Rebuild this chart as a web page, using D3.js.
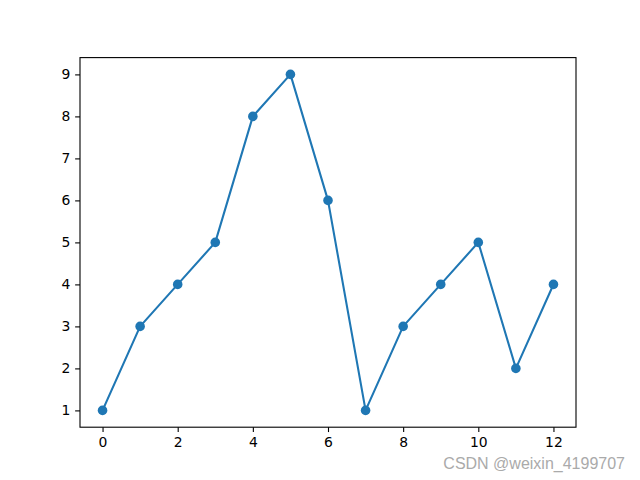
<!DOCTYPE html>
<html><head><meta charset="utf-8">
<script src="https://cdn.jsdelivr.net/npm/d3@7"></script>
<style>body{margin:0;background:#fff}svg{display:block}</style>
</head><body>
<svg id="c" width="640" height="480"></svg>
<script>
const xs = [0,1,2,3,4,5,6,7,8,9,10,11,12];
const ys = [1,3,4,5,8,9,6,1,3,4,5,2,4];
const xTicks = [0,2,4,6,8,10,12];
const yTicks = [1,2,3,4,5,6,7,8,9];

const svg = d3.select("#c");
const L=80, R=576, T=57.6, B=427.2;
const x = d3.scaleLinear().domain([-0.6,12.6]).range([L,R]);
const y = d3.scaleLinear().domain([0.6,9.4]).range([B,T]);
const color = "#1f77b4";
const font = "DejaVu Sans, sans-serif";

const line = d3.line().x((d,i)=>x(xs[i])).y(d=>y(d));
svg.append("path").datum(ys).attr("d",line).attr("fill","none")
  .attr("stroke",color).attr("stroke-width",2.08).attr("stroke-linejoin","round").attr("stroke-linecap","square");
svg.selectAll("circle.p").data(ys).enter().append("circle")
  .attr("cx",(d,i)=>x(xs[i])).attr("cy",d=>y(d)).attr("r",4.8).attr("fill",color);

const xa = svg.append("g").attr("transform",`translate(0,${B})`)
  .call(d3.axisBottom(x).tickValues(xTicks).tickSize(4.86).tickPadding(4.86).tickFormat(d3.format("d")));
const ya = svg.append("g").attr("transform",`translate(${L},0)`)
  .call(d3.axisLeft(y).tickValues(yTicks).tickSize(4.86).tickPadding(4.86).tickFormat(d3.format("d")));
[xa,ya].forEach(a=>{
  a.select(".domain").remove();
  a.selectAll("text").attr("font-family",font).attr("font-size",13.9).attr("fill","#000");
  a.selectAll("line").attr("stroke","#000").attr("stroke-width",1.1);
});
svg.append("rect").attr("x",L).attr("y",T).attr("width",R-L).attr("height",B-T)
  .attr("fill","none").attr("stroke","#000").attr("stroke-width",1.1);

svg.append("text").attr("x",625).attr("y",469).attr("text-anchor","end")
  .attr("font-family","Liberation Sans, Arial, sans-serif").attr("font-size",16).attr("fill","#aaa")
  .text("CSDN @weixin_4199707");
</script>
</body></html>
